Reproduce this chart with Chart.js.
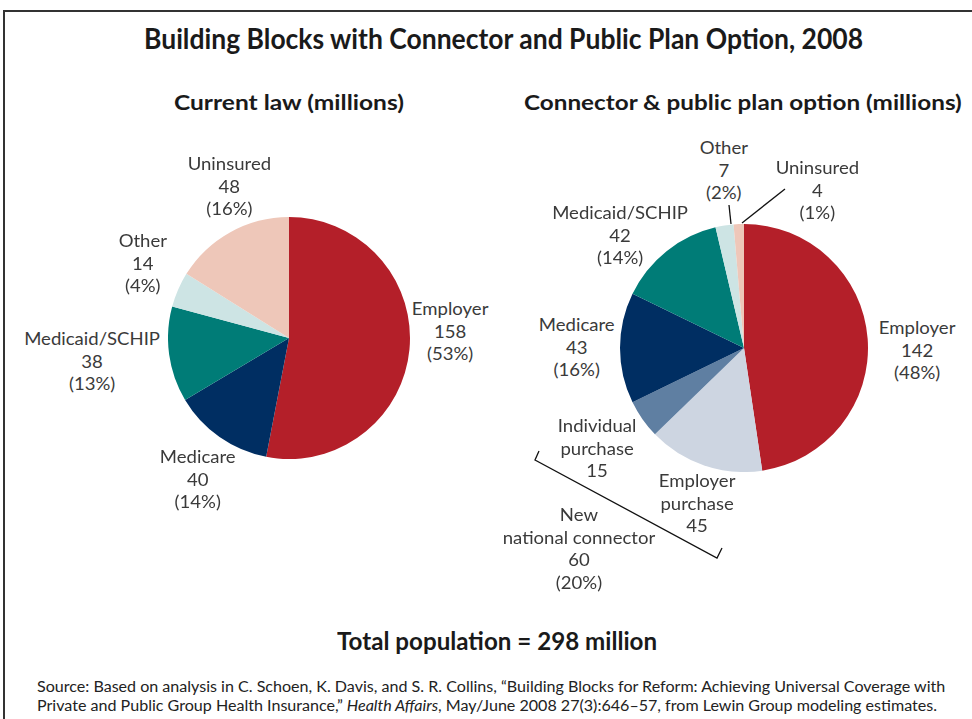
<!DOCTYPE html>
<html><head><meta charset="utf-8">
<script src="https://cdn.jsdelivr.net/npm/chart.js@4.4.1/dist/chart.umd.min.js"></script>
<style>
html,body{margin:0;padding:0;background:#fff;}
#wrap{position:relative;width:972px;height:719px;overflow:hidden;font-family:Lato,"Open Sans",sans-serif;color:#333;}
.t{position:absolute;white-space:nowrap;transform-origin:0 0;}
.lab{position:absolute;text-align:center;font-size:17.5px;line-height:22.5px;color:#3a3a3a;white-space:nowrap;transform:scaleX(1.06);transform-origin:50% 0;}
canvas{position:absolute;}
svg{position:absolute;left:0;top:0;}
</style></head>
<body><div id="wrap">
<svg width="972" height="719">
  <path d="M4 719 L4 11 L972 11" fill="none" stroke="#333" stroke-width="2"/>
  <line x1="729" y1="205" x2="731" y2="224" stroke="#111" stroke-width="1.3"/>
  <line x1="785" y1="189" x2="742" y2="223" stroke="#111" stroke-width="1.3"/>
  <path d="M539 451 L535 460 L717 558 L722 548" fill="none" stroke="#111" stroke-width="1.3"/>
</svg>
<canvas id="c1" width="242" height="242" style="left:168px;top:217px;width:242px;height:242px"></canvas>
<canvas id="c2" width="248" height="248" style="left:620px;top:224px;width:248px;height:248px"></canvas>
</div>
<script>
// ---- data ----
const titleText = "Building Blocks with Connector and Public Plan Option, 2008";
const leftTitle = "Current law (millions)";
const rightTitle = "Connector & public plan option (millions)";
const totalText = "Total population = 298 million";

const leftCategories = ["Employer", "Medicare", "Medicaid/SCHIP", "Other", "Uninsured"];
const leftValues = [158, 40, 38, 14, 48];
const leftPercents = ["53%", "14%", "13%", "4%", "16%"];

const rightCategories = ["Employer", "Employer purchase", "Individual purchase", "Medicare", "Medicaid/SCHIP", "Other", "Uninsured"];
const rightValues = [142, 45, 15, 43, 42, 7, 4];
const rightPercents = ["48%", "", "", "16%", "14%", "2%", "1%"];

const connectorLabel = "New national connector";
const connectorValue = 60;
const connectorPercent = "20%";

const leftColors = ["#B41F29", "#002E62", "#007C77", "#CDE4E4", "#EEC7B9"];
const rightColors = ["#B41F29", "#CDD5E1", "#5F7FA2", "#002E62", "#007C77", "#CDE4E4", "#EEC7B9"];

// ---- charts ----
Chart.defaults.animation = false;
function pie(id, labels, values, colors){
  new Chart(document.getElementById(id), {
    type: 'pie',
    data: { labels: labels, datasets: [{ data: values, backgroundColor: colors, borderWidth: 0 }] },
    options: { responsive: false, animation: false, layout: { padding: 0 },
      plugins: { legend: { display: false }, tooltip: { enabled: false } } }
  });
}
pie('c1', leftCategories, leftValues, leftColors);
pie('c2', rightCategories, rightValues, rightColors);

// ---- text ----
const wrap = document.getElementById('wrap');
function fitText(txt, cx, cy, size, weight, width, color, italicPart){
  const d = document.createElement('div');
  d.className = 't';
  d.style.fontSize = size + 'px';
  d.style.fontWeight = weight;
  d.style.color = color;
  d.style.lineHeight = '1';
  if (italicPart) d.innerHTML = txt; else d.textContent = txt;
  wrap.appendChild(d);
  const w = d.offsetWidth, h = d.offsetHeight;
  const s = width / w;
  d.style.transform = 'scaleX(' + s + ')';
  d.style.left = (cx === null ? 0 : cx - width / 2) + 'px';
  d.style.top = (cy - h / 2) + 'px';
  return d;
}
fitText(titleText, 503, 38, 28, 700, 719, '#1a1a1a');
fitText(leftTitle, 289, 101, 21, 700, 230, '#1a1a1a');
fitText(rightTitle, 743, 101, 21, 700, 438, '#1a1a1a');
fitText(totalText, 497, 641, 24, 700, 320, '#1a1a1a');
const s1 = fitText("Source: Based on analysis in C. Schoen, K. Davis, and S. R. Collins, \u201cBuilding Blocks for Reform: Achieving Universal Coverage with", null, 687, 15.5, 400, 908, '#222');
s1.style.left = '37px';
const s2 = fitText("Private and Public Group Health Insurance,\u201d <i>Health Affairs</i>, May/June 2008 27(3):646\u201357, from Lewin Group modeling estimates.", null, 706, 15.5, 400, 900, '#222', true);
s2.style.left = '37px';

function label(lines, cx, top){
  const d = document.createElement('div');
  d.className = 'lab';
  d.innerHTML = lines.join('<br>');
  wrap.appendChild(d);
  d.style.left = (cx - d.offsetWidth / 2) + 'px';
  d.style.top = top + 'px';
}
// left pie labels: [index, centerX, top]
const leftPos = [[0, 450, 298], [1, 198, 446], [2, 92, 328], [3, 143, 230], [4, 229, 153]];
leftPos.forEach(p => {
  const i = p[0];
  label([leftCategories[i], String(leftValues[i]), '(' + leftPercents[i] + ')'], p[1], p[2]);
});
const rightPos = [[0, 917, 317], [3, 577, 314], [4, 620, 202], [5, 724, 137], [6, 817, 157]];
rightPos.forEach(p => {
  const i = p[0];
  label([rightCategories[i], String(rightValues[i]), '(' + rightPercents[i] + ')'], p[1], p[2]);
});
label(["Individual", "purchase", String(rightValues[2])], 597, 415);
label(["Employer", "purchase", String(rightValues[1])], 697, 470);
label(["New", "national connector", String(connectorValue), '(' + connectorPercent + ')'], 579, 504);
</script>
</body></html>
